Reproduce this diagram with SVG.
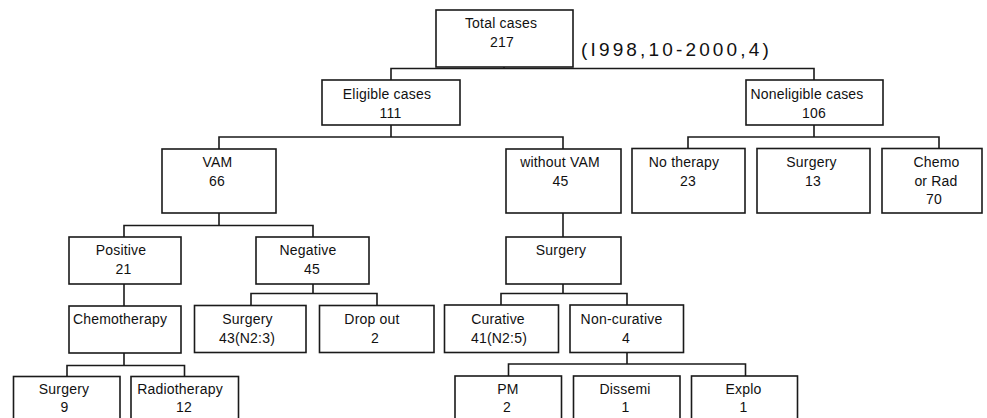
<svg xmlns="http://www.w3.org/2000/svg" width="987" height="418" viewBox="0 0 987 418">
<style>
.box{fill:#fff;stroke:#1a1a1a;stroke-width:1.6}
.conn{fill:none;stroke:#1a1a1a;stroke-width:1.6}
text{font-family:"Liberation Sans",Arial,sans-serif;font-size:14px;fill:#111;text-anchor:middle;letter-spacing:0.2px}
.note{font-size:19px;text-anchor:start}
</style>
<rect width="987" height="418" fill="#fff"/>
<g id="connectors">
<path class="conn" d="M504,67V68.5 M391,80V68.5H814V80"/>
<path class="conn" d="M391,125V137 M219,149V137H563V149"/>
<path class="conn" d="M814,125V137 M688,148.5V137H939V148.5"/>
<path class="conn" d="M219,213V225.5 M124,237V225.5H313V237"/>
<path class="conn" d="M563,213V237"/>
<path class="conn" d="M124,284V306"/>
<path class="conn" d="M313,284V293.5 M251,305.5V293.5H377V305.5"/>
<path class="conn" d="M563,284V293.5 M501,305V293.5H627V305"/>
<path class="conn" d="M124,353V365.5 M67,376.5V365.5H184.5V376.5"/>
<path class="conn" d="M627,352.5V364 M508.5,376V364H745.5V376"/>
</g>
<g id="total"><rect class="box" x="436" y="10" width="137" height="57"/><text x="501" y="28">Total cases</text><text x="502" y="47">217</text></g>
<text id="period" class="note" x="581" y="55.5" textLength="188" lengthAdjust="spacing">(I998,10-2000,4)</text>
<g id="eligible"><rect class="box" x="322" y="80" width="138" height="45"/><text x="387" y="98.5">Eligible cases</text><text x="390.5" y="117.5">111</text></g>
<g id="noneligible"><rect class="box" x="746" y="80" width="137" height="45"/><text x="807" y="98.5">Noneligible cases</text><text x="814" y="117.5">106</text></g>
<g id="vam"><rect class="box" x="162" y="149" width="114" height="64"/><text x="217.5" y="167">VAM</text><text x="217" y="185.5">66</text></g>
<g id="without-vam"><rect class="box" x="506" y="149" width="115" height="64"/><text x="560" y="167">without VAM</text><text x="560.5" y="185.5">45</text></g>
<g id="no-therapy"><rect class="box" x="632" y="148.5" width="113" height="64.5"/><text x="684" y="167">No therapy</text><text x="688" y="185.5">23</text></g>
<g id="surgery-ne"><rect class="box" x="757" y="148.5" width="113" height="64.5"/><text x="811.5" y="167">Surgery</text><text x="813" y="185.5">13</text></g>
<g id="chemo-rad"><rect class="box" x="882" y="148.5" width="100" height="64.5"/><text x="936.5" y="167">Chemo</text><text x="936" y="185.5">or Rad</text><text x="934" y="204">70</text></g>
<g id="positive"><rect class="box" x="69" y="237" width="112" height="47"/><text x="121" y="255">Positive</text><text x="123.5" y="273.5">21</text></g>
<g id="negative"><rect class="box" x="256" y="237" width="113" height="47"/><text x="308" y="255">Negative</text><text x="312" y="273.5">45</text></g>
<g id="surgery-w"><rect class="box" x="506" y="237" width="115" height="47"/><text x="561" y="255">Surgery</text></g>
<g id="chemotherapy"><rect class="box" x="69" y="306" width="112" height="47"/><text x="120" y="324">Chemotherapy</text></g>
<g id="surgery-43"><rect class="box" x="194.5" y="305.5" width="111.5" height="47"/><text x="247.5" y="324">Surgery</text><text x="247" y="342.5">43(N2:3)</text></g>
<g id="drop-out"><rect class="box" x="319.5" y="305.5" width="114.5" height="47"/><text x="372" y="324">Drop out</text><text x="375" y="342.5">2</text></g>
<g id="curative"><rect class="box" x="444.5" y="305" width="114" height="47.5"/><text x="498" y="324">Curative</text><text x="499" y="342.5">41(N2:5)</text></g>
<g id="non-curative"><rect class="box" x="570" y="305" width="113.5" height="47.5"/><text x="621.5" y="324">Non-curative</text><text x="626" y="342.5">4</text></g>
<g id="surgery-9"><rect class="box" x="13.5" y="376.5" width="106.5" height="60"/><text x="64" y="393.5">Surgery</text><text x="64.5" y="412">9</text></g>
<g id="radiotherapy"><rect class="box" x="131" y="376.5" width="107.5" height="60"/><text x="180" y="393.5">Radiotherapy</text><text x="184" y="412">12</text></g>
<g id="pm"><rect class="box" x="455" y="376" width="106.5" height="60"/><text x="508" y="393.5">PM</text><text x="507" y="412">2</text></g>
<g id="dissemi"><rect class="box" x="573.5" y="376" width="106.5" height="60"/><text x="625" y="393.5">Dissemi</text><text x="625.5" y="412">1</text></g>
<g id="explo"><rect class="box" x="691.5" y="376" width="106" height="60"/><text x="743.5" y="393.5">Explo</text><text x="743.5" y="412">1</text></g>
</svg>
